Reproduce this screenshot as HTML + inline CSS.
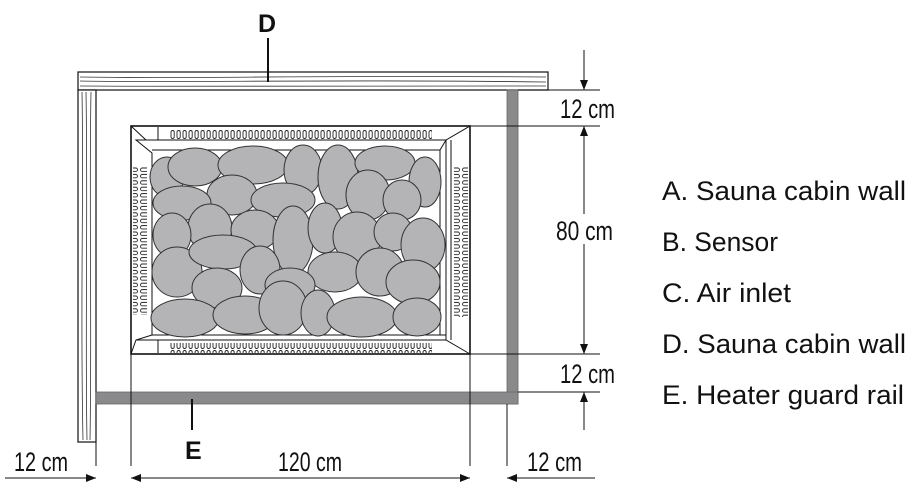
<!DOCTYPE html>
<html><head><meta charset="utf-8"><style>
html,body{margin:0;padding:0;background:#fff;}
svg{display:block;}
text{font-family:"Liberation Sans",sans-serif;fill:#111;}
</style></head><body>
<svg width="918" height="495" viewBox="0 0 918 495" xmlns="http://www.w3.org/2000/svg">
<defs>
<marker id="ar" viewBox="0 0 10 10" refX="10" refY="5" markerWidth="10" markerHeight="10" markerUnits="userSpaceOnUse" orient="auto"><path d="M0,1 L10,5 L0,9 z" fill="#111"/></marker>
<pattern id="hv" x="170" y="0" width="6" height="10" patternUnits="userSpaceOnUse"><rect x="1" y="0.5" width="3.2" height="8" rx="1.6" fill="none" stroke="#222" stroke-width="0.9"/></pattern>
<pattern id="vv" x="0" y="167" width="14" height="6.4" patternUnits="userSpaceOnUse"><rect x="0.5" y="1" width="11" height="3.4" rx="1.7" fill="none" stroke="#222" stroke-width="0.9"/></pattern>
</defs>
<rect x="78" y="72" width="470" height="18" fill="#fff" stroke="#222" stroke-width="1.3"/>
<path d="M80,77 C200,79 300,75 546,77 M80,81 C180,83 330,79 546,82 M80,86 C220,87 350,85 546,86" fill="none" stroke="#333" stroke-width="0.8"/>
<rect x="78" y="90" width="18" height="352" fill="#fff" stroke="#222" stroke-width="1.3"/>
<path d="M82,92 C84,200 80,300 83,440 M86,92 C88,220 85,330 87,440 M91,92 C89,200 92,320 90,440" fill="none" stroke="#333" stroke-width="0.8"/>
<rect x="507" y="90" width="11" height="314" fill="#8a8a8c" stroke="#666" stroke-width="0.8"/>
<rect x="96" y="392" width="422" height="12" fill="#8a8a8c" stroke="#666" stroke-width="0.8"/>
<rect x="131" y="126" width="339" height="228" fill="#fff" stroke="#111" stroke-width="1.6"/>
<rect x="170" y="129" width="262" height="10" fill="url(#hv)"/>
<rect x="170" y="343" width="262" height="10" fill="url(#hv)"/>
<line x1="158" y1="127" x2="158" y2="140" stroke="#111"/>
<line x1="158" y1="340" x2="158" y2="353" stroke="#111"/>
<rect x="133" y="167" width="14" height="148" fill="url(#vv)"/>
<rect x="454" y="167" width="14" height="150" fill="url(#vv)"/>
<path d="M131,126 L146,140 L136,140 L152,153 L152,335 L136,340 L131,354 M152,335 L446,335 M136,340 L446,340 L470,354 M136,140 L446,140 L470,126 M446,140 L440,150 L152,150 M440,150 L440,335 M446,140 L446,340 M451,140 L451,340" fill="none" stroke="#111" stroke-width="1"/>
<g fill="#b4b4b6" stroke="#333" stroke-width="1">
<ellipse cx="167" cy="177" rx="17" ry="20"/><ellipse cx="195" cy="167" rx="27" ry="19"/><ellipse cx="253" cy="165" rx="35" ry="19"/><ellipse cx="303" cy="170" rx="19" ry="25"/><ellipse cx="338" cy="177" rx="20" ry="32"/><ellipse cx="385" cy="163" rx="30" ry="17"/><ellipse cx="425" cy="182" rx="16" ry="25"/>
<ellipse cx="232" cy="195" rx="25" ry="20"/><ellipse cx="182" cy="203" rx="29" ry="17"/><ellipse cx="283" cy="200" rx="32" ry="17"/><ellipse cx="368" cy="195" rx="22" ry="25"/><ellipse cx="402" cy="200" rx="19" ry="20"/>
<ellipse cx="210" cy="228" rx="22" ry="24"/><ellipse cx="172" cy="235" rx="19" ry="22"/><ellipse cx="255" cy="230" rx="24" ry="20"/><ellipse cx="293" cy="240" rx="20" ry="34"/><ellipse cx="325" cy="228" rx="17" ry="25"/><ellipse cx="357" cy="237" rx="24" ry="25"/><ellipse cx="393" cy="232" rx="19" ry="19"/><ellipse cx="423" cy="245" rx="22" ry="27"/>
<ellipse cx="177" cy="272" rx="25" ry="25"/><ellipse cx="223" cy="252" rx="34" ry="17"/><ellipse cx="260" cy="270" rx="20" ry="24"/><ellipse cx="335" cy="272" rx="27" ry="20"/><ellipse cx="380" cy="272" rx="24" ry="24"/><ellipse cx="413" cy="282" rx="27" ry="22"/><ellipse cx="290" cy="285" rx="25" ry="17"/>
<ellipse cx="217" cy="288" rx="25" ry="20"/><ellipse cx="185" cy="318" rx="34" ry="19"/><ellipse cx="245" cy="315" rx="32" ry="19"/><ellipse cx="283" cy="308" rx="24" ry="27"/><ellipse cx="318" cy="313" rx="17" ry="23"/><ellipse cx="362" cy="317" rx="35" ry="20"/><ellipse cx="417" cy="317" rx="24" ry="19"/>
</g>
<g stroke="#111" stroke-width="1" fill="none">
<line x1="518" y1="90" x2="600" y2="90"/><line x1="470" y1="126" x2="600" y2="126"/>
<line x1="470" y1="354" x2="600" y2="354"/><line x1="518" y1="392" x2="600" y2="392"/>
<line x1="96" y1="442" x2="96" y2="466"/><line x1="131" y1="354" x2="131" y2="466"/>
<line x1="470" y1="354" x2="470" y2="466"/><line x1="507" y1="404" x2="507" y2="466"/>
<line x1="584" y1="50" x2="584" y2="90" marker-end="url(#ar)"/>
<line x1="584" y1="230" x2="584" y2="126" marker-end="url(#ar)"/>
<line x1="584" y1="230" x2="584" y2="354" marker-end="url(#ar)"/>
<line x1="584" y1="430" x2="584" y2="392" marker-end="url(#ar)"/>
<line x1="5" y1="478" x2="96" y2="478" marker-end="url(#ar)"/>
<line x1="300" y1="478" x2="131" y2="478" marker-end="url(#ar)"/>
<line x1="300" y1="478" x2="470" y2="478" marker-end="url(#ar)"/>
<line x1="595" y1="478" x2="507" y2="478" marker-end="url(#ar)"/>
<line x1="268" y1="38" x2="268" y2="82" stroke-width="2"/>
<line x1="192" y1="399" x2="192" y2="430" stroke-width="2"/>
</g>
<g font-size="27">
<rect x="553" y="214" width="64" height="30" fill="#fff"/>
<text x="556" y="240" textLength="57" lengthAdjust="spacingAndGlyphs">80 cm</text>
<text x="560" y="118" textLength="55" lengthAdjust="spacingAndGlyphs">12 cm</text>
<text x="560" y="383" textLength="55" lengthAdjust="spacingAndGlyphs">12 cm</text>
<text x="14" y="471" textLength="54" lengthAdjust="spacingAndGlyphs">12 cm</text>
<rect x="274" y="448" width="72" height="28" fill="#fff"/>
<text x="278" y="471" textLength="64" lengthAdjust="spacingAndGlyphs">120 cm</text>
<text x="527" y="471" textLength="55" lengthAdjust="spacingAndGlyphs">12 cm</text>
</g>
<text x="258" y="32" font-size="25" font-weight="bold">D</text>
<text x="185" y="459" font-size="25" font-weight="bold">E</text>
<g font-size="27">
<text x="662" y="200" textLength="244" lengthAdjust="spacingAndGlyphs">A. Sauna cabin wall</text>
<text x="662" y="251" textLength="116" lengthAdjust="spacingAndGlyphs">B. Sensor</text>
<text x="662" y="302" textLength="129" lengthAdjust="spacingAndGlyphs">C. Air inlet</text>
<text x="662" y="353" textLength="244" lengthAdjust="spacingAndGlyphs">D. Sauna cabin wall</text>
<text x="662" y="404" textLength="242" lengthAdjust="spacingAndGlyphs">E. Heater guard rail</text>
</g>
</svg>
</body></html>
